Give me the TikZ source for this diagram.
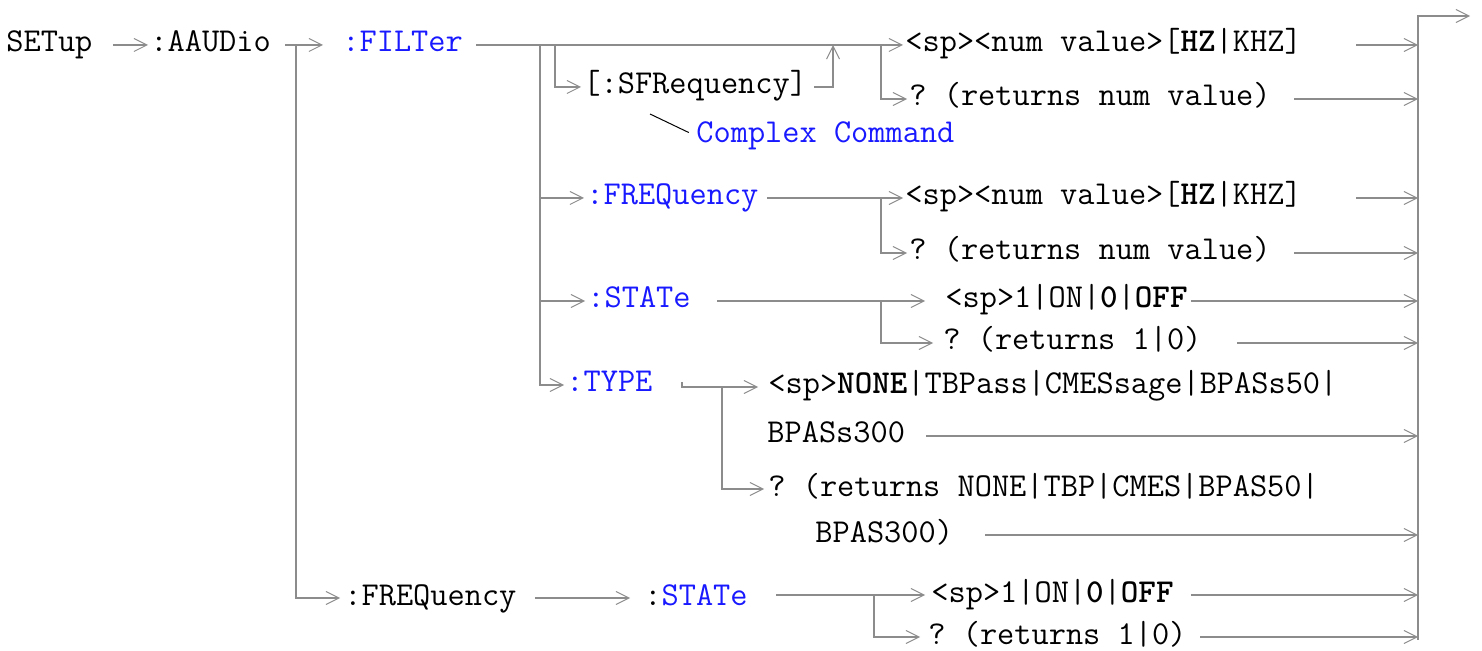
\documentclass[tikz,border=0pt]{standalone}
\usepackage{fontspec}
\usepackage{xcolor}
\usepackage{tikz}
\usetikzlibrary{arrows.meta}
\definecolor{railgray}{RGB}{140,140,140}
\definecolor{kwblue}{RGB}{25,25,255}

\begin{document}
\begin{tikzpicture}[
      x=0.5pt, y=-0.5pt,
      font=\fontsize{16.7}{19}\selectfont\ttfamily\frenchspacing,
      cmd/.style={anchor=west, inner sep=0pt, text height=10pt, text depth=3pt},
      kw/.style={cmd, text=kwblue},
      rail/.style={draw=railgray, line width=1pt},
      go/.style={rail, -{Straight Barb[length=6.5pt, width=6.5pt, line width=0.5pt]}},
      lead/.style={draw=black, line width=0.5pt},
  ]
  \useasboundingbox (0,0) rectangle (1482,651);

  % Backbone
  \node[cmd]  (setup)  at (   6, 45) {SETup};
  \node[cmd]  (aaudio) at ( 150, 45) {:AAUDio};
  \node[kw]   (filter) at ( 342, 45) {:FILTer};

  % :FILTer subtree
  \node[cmd]  (sfreq)  at ( 583, 87) {[:SFRequency]};
  \node[kw]   (cplx)   at ( 696,136) {Complex Command};
  \node[cmd]  (f1a)    at ( 905, 45) {<sp><num value>[\textbf{HZ}|KHZ]};
  \node[cmd]  (f1b)    at ( 909, 99) {? (returns num value)};
  \node[kw]   (freq)   at ( 586,198) {:FREQuency};
  \node[cmd]  (f2a)    at ( 905,198) {<sp><num value>[\textbf{HZ}|KHZ]};
  \node[cmd]  (f2b)    at ( 909,253) {? (returns num value)};
  \node[kw]   (state)  at ( 587,301) {:STATe};
  \node[cmd]  (s1a)    at ( 945,301) {<sp>1|ON|\textbf{0}|\textbf{OFF}};
  \node[cmd]  (s1b)    at ( 943,343) {? (returns 1|0)};
  \node[kw]   (type)   at ( 566,385) {:TYPE};
  \node[cmd]  (t1a)    at ( 768,387) {<sp>\textbf{NONE}|TBPass|CMESsage|BPASs50|};
  \node[cmd]  (t1b)    at ( 767,436) {BPASs300};
  \node[cmd]  (t2a)    at ( 768,489) {? (returns NONE|TBP|CMES|BPAS50|};
  \node[cmd]  (t2b)    at ( 815,535) {BPAS300)};

  % :AAUDio:FREQuency subtree
  \node[cmd]  (afreq)  at ( 344,598) {:FREQuency};
  \node[cmd]  (astate) at ( 644,598) {:\textcolor{kwblue}{STATe}};
  \node[cmd]  (s2a)    at ( 931,595) {<sp>1|ON|\textbf{0}|\textbf{OFF}};
  \node[cmd]  (s2b)    at ( 928,637) {? (returns 1|0)};

  % Junctions
  \coordinate (jA)   at ( 296, 45);
  \coordinate (jF)   at ( 540, 45);
  \coordinate (jS)   at ( 555, 45);
  \coordinate (jR)   at ( 833, 45);
  \coordinate (jV1)  at ( 881, 45);
  \coordinate (jV2)  at ( 881,198);
  \coordinate (jV3)  at ( 881,301);
  \coordinate (tyS)  at ( 682,382);
  \coordinate (jT)   at ( 722,387);
  \coordinate (st2)  at ( 776,595);
  \coordinate (jV4)  at ( 874,595);
  \coordinate (cpt)  at ( 650,114);
  \coordinate (busT) at (1418, 16);
  \coordinate (busB) at (1418,640);
  \coordinate (outR) at (1470, 16);

  % Backbone connectors
  \draw[go, shorten <=10pt, shorten >=1pt] (setup) -- (aaudio);
  \draw[go, shorten <=7pt, shorten >=9.5pt] (aaudio) -- (filter);
  \draw[go, shorten <=6.5pt, shorten >=1pt] (filter) -- (f1a);

  % Optional [:SFRequency]
  \draw[go, shorten >=1pt] (jS) |- (sfreq);
  \draw[go, shorten <=3.5pt] (sfreq) -| (jR);
  \draw[lead, shorten >=4pt] (cpt) -- (cplx.west);
  \draw[go, shorten >=1pt] (jV1) |- (f1b);

  % :FILTer column
  \draw[go, shorten >=1pt] (jF) |- (type);
  \draw[go, shorten >=1pt] (jF |- freq) -- (freq);
  \draw[go, shorten >=1pt] (jF |- state) -- (state);

  \draw[go, shorten <=4pt, shorten >=1pt] (freq) -- (f2a);
  \draw[go, shorten >=1pt] (jV2) |- (f2b);

  \draw[go, shorten <=13pt, shorten >=10pt] (state) -- (s1a);
  \draw[go, shorten >=5pt] (jV3) |- (s1b);

  \draw[go, shorten >=5pt] (tyS) |- (t1a);
  \draw[go, shorten >=2pt] (jT) |- (t2a);

  % :AAUDio:FREQuency branch
  \draw[go, shorten >=2pt] (jA) |- (afreq);
  \draw[go, shorten <=9pt, shorten >=7pt] (afreq) -- (astate);
  \draw[go, shorten >=3pt] (st2) -- (s2a);
  \draw[go, shorten >=4pt] (jV4) |- (s2b);

  % Into the bus
  \draw[go] (busB) -- (busT) -- (outR);
  \draw[go, shorten <=27pt]   (f1a) -- (f1a -| busT);
  \draw[go, shorten <=11.5pt] (f1b) -- (f1b -| busT);
  \draw[go, shorten <=27pt]   (f2a) -- (f2a -| busT);
  \draw[go, shorten <=11.5pt] (f2b) -- (f2b -| busT);
  \draw[go, shorten <=1.5pt]  (s1a) -- (s1a -| busT);
  \draw[go, shorten <=17.5pt] (s1b) -- (s1b -| busT);
  \draw[go, shorten <=10.5pt] (t1b) -- (t1b -| busT);
  \draw[go, shorten <=16pt]   (t2b) -- (t2b -| busT);
  \draw[go, shorten <=8.5pt]  (s2a) -- (s2a -| busT);
  \draw[go, shorten <=6.5pt]  (s2b) -- (s2b -| busT);

\end{tikzpicture}
\end{document}
